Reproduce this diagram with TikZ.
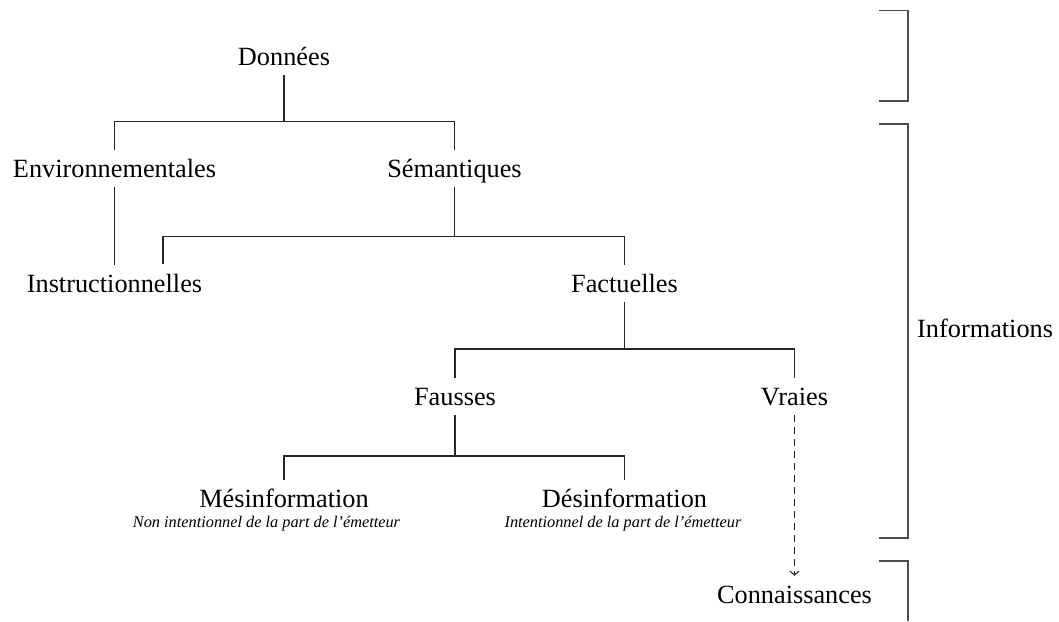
\documentclass[tikz,border=0pt]{standalone}
\usepackage{fontspec}
\setmainfont{Liberation Serif}
\usetikzlibrary{arrows.meta}
\newcommand{\mainsize}{\fontsize{26.3}{30}\selectfont}
\newcommand{\notesize}{\fontsize{16.3}{19}\selectfont\itshape}
\tikzset{
  lbl/.style={anchor=base, inner xsep=0pt, inner ysep=4pt, text height=23pt, text depth=6pt, font=\mainsize},
  note/.style={anchor=base, inner sep=0pt, font=\notesize},
  side/.style={anchor=base west, inner sep=0pt, font=\mainsize},
  link/.style={line width=1.1pt, black!85},
  brk/.style={line width=1.1pt, black!70},
  dashlink/.style={line width=1.1pt, black!85, dash pattern=on 7pt off 5pt, -{Straight Barb[length=4pt,width=9pt]}}
}
\begin{document}
\begin{tikzpicture}[x=1pt,y=-1pt]
\useasboundingbox (0,0) rectangle (1059,621);
% nodes
\node[lbl] (don) at (284,65) {Données};
\node[lbl] (env) at (114.5,177) {Environnementales};
\node[lbl] (sem) at (454.5,177) {Sémantiques};
\node[lbl] (ins) at (114.5,292) {Instructionnelles};
\node[lbl] (fac) at (624.5,292) {Factuelles};
\node[lbl] (fau) at (455,405) {Fausses};
\node[lbl] (vra) at (794.5,405) {Vraies};
\node[lbl] (mes) at (284,507) {Mésinformation};
\node[lbl] (des) at (624.5,507) {Désinformation};
\node[note] (mesn) at (266.5,527) {Non intentionnel de la part de l’émetteur};
\node[note] (desn) at (623,527) {Intentionnel de la part de l’émetteur};
\node[lbl] (con) at (794.5,603) {Connaissances};
\node[side] (inf) at (917,337) {Informations};
% branch points
\coordinate (b1) at (284,121.5);
\coordinate (b2) at (454.5,236.5);
\coordinate (b3) at (624.5,349);
\coordinate (b4) at (455,456);
\coordinate (ic) at (163,264);
% connectors
\draw[link] (don.south) -- (b1);
\draw[link] (env.north) |- (b1) -| (sem.north);
\draw[link] (env.south) -- (ins.north);
\draw[link] (sem.south) -- (b2);
\draw[link] (ic) |- (b2) -| (fac.north);
\draw[link] (fac.south) -- (b3);
\draw[link] (fau.north) |- (b3) -| (vra.north);
\draw[link] (fau.south) -- (b4);
\draw[link] (mes.north) |- (b4) -| (des.north);
\draw[dashlink] (vra.south) -- (con.north);
% brackets
\draw[brk] (879,10.7) -| (908,101) -- (879,101);
\draw[brk] (879,124) -| (908,538) -- (879,538);
\draw[brk] (879,561) -| (908,621);
\end{tikzpicture}
\end{document}
